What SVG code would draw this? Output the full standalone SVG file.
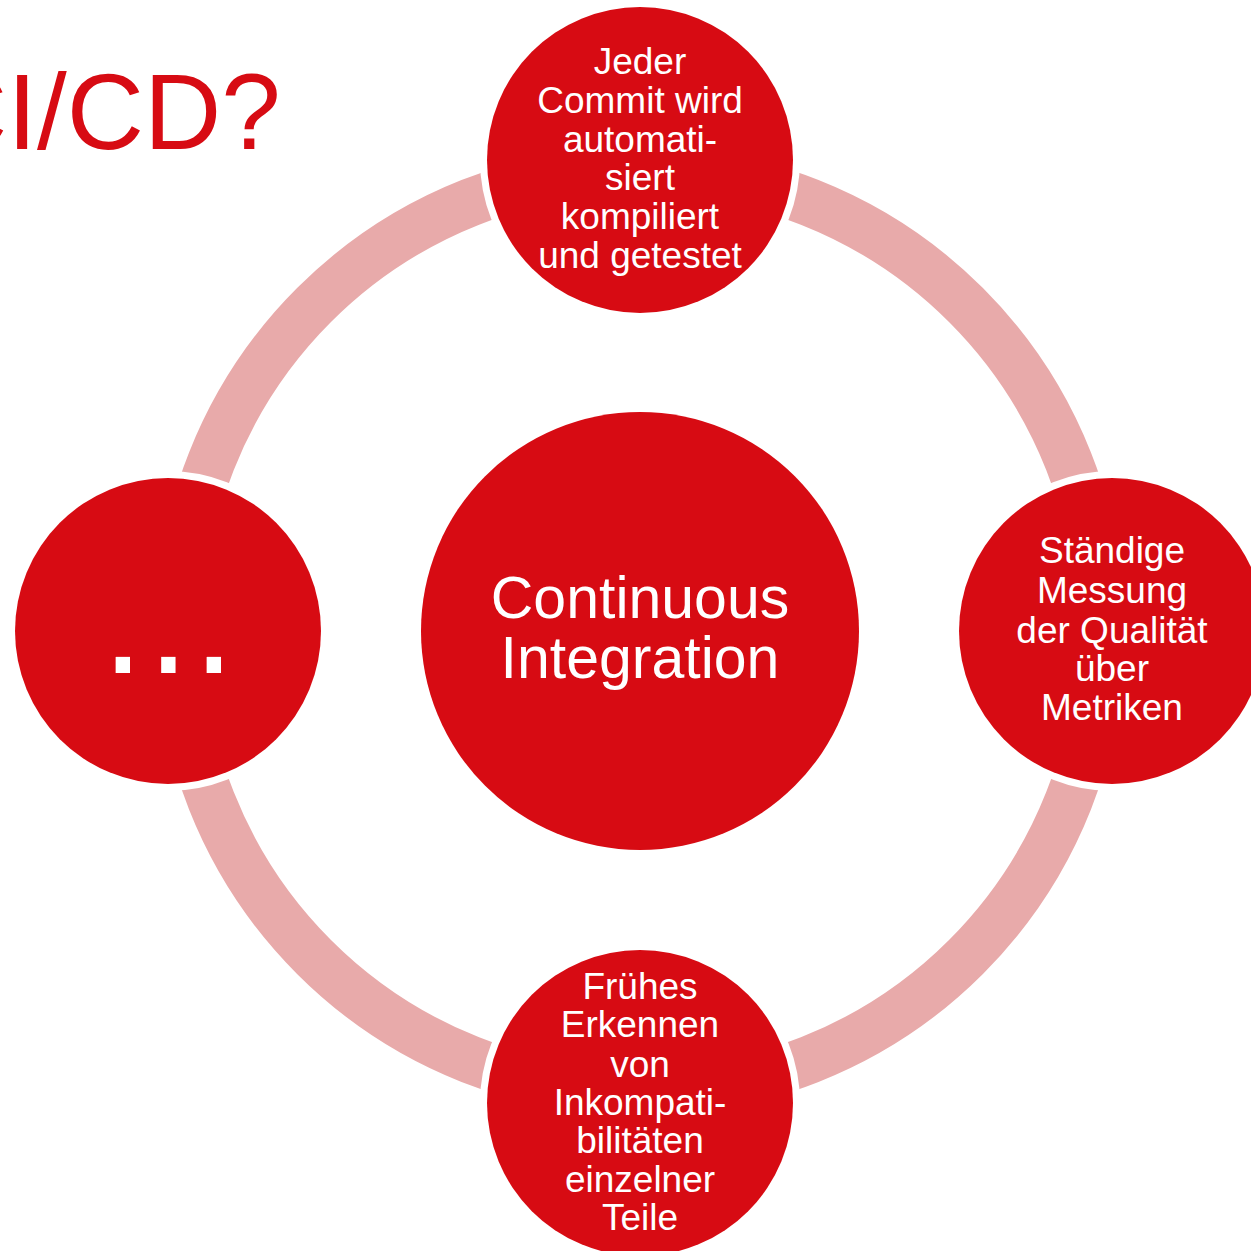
<svg xmlns="http://www.w3.org/2000/svg" width="1251" height="1251" viewBox="0 0 1251 1251">
<style>
.ring{fill:none;stroke:#e8aaaa;stroke-width:48}
.sat{fill:#d70b13;stroke:#ffffff;stroke-width:14;paint-order:stroke}
.core{fill:#d70b13}
.t{font-family:"Liberation Sans",Arial,sans-serif;fill:#ffffff;text-anchor:middle}
.s{font-size:37px}
.c{font-size:59px}
.title{font-family:"Liberation Sans",Arial,sans-serif;fill:#d70b13;font-size:107px}
</style>
<rect width="1251" height="1251" fill="#ffffff"/>
<text class="title" x="-70" y="149">CI/CD?</text>
<g id="connectors">
<circle class="ring" cx="640" cy="631" r="461"/>
</g>
<g id="center">
<circle class="core" cx="640" cy="631" r="219"/>
<text class="t c" x="640" y="618">Continuous</text>
<text class="t c" x="640" y="678">Integration</text>
</g>
<g id="top">
<circle class="sat" cx="640" cy="160" r="153"/>
<text class="t s" x="640" y="74">Jeder</text>
<text class="t s" x="640" y="113">Commit wird</text>
<text class="t s" x="640" y="152">automati-</text>
<text class="t s" x="640" y="190">siert</text>
<text class="t s" x="640" y="229">kompiliert</text>
<text class="t s" x="640" y="268">und getestet</text>
</g>
<g id="right">
<circle class="sat" cx="1112" cy="631" r="153"/>
<text class="t s" x="1112" y="563">Ständige</text>
<text class="t s" x="1112" y="603">Messung</text>
<text class="t s" x="1112" y="643">der Qualität</text>
<text class="t s" x="1112" y="681">über</text>
<text class="t s" x="1112" y="720">Metriken</text>
</g>
<g id="bottom">
<circle class="sat" cx="640" cy="1103" r="153"/>
<text class="t s" x="640" y="999">Frühes</text>
<text class="t s" x="640" y="1037">Erkennen</text>
<text class="t s" x="640" y="1077">von</text>
<text class="t s" x="640" y="1115">Inkompati-</text>
<text class="t s" x="640" y="1153">bilitäten</text>
<text class="t s" x="640" y="1192">einzelner</text>
<text class="t s" x="640" y="1230">Teile</text>
</g>
<g id="left">
<circle class="sat" cx="168" cy="631" r="153"/>
<text x="102" y="673" font-family="Liberation Sans, Arial, sans-serif" font-size="150" fill="#ffffff" letter-spacing="3.8">...</text>
</g>
</svg>
